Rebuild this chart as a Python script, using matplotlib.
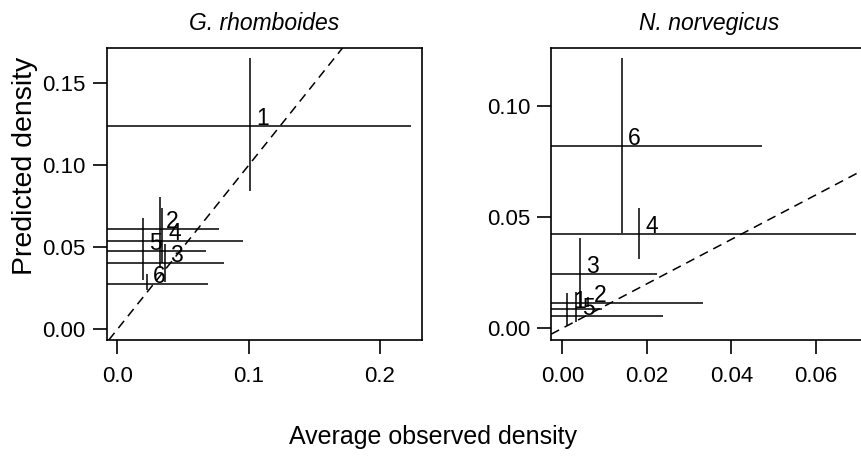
import matplotlib
matplotlib.use("Agg")
import matplotlib.pyplot as plt

plt.rcParams['font.family'] = ['Liberation Sans', 'DejaVu Sans']

# ---------------- data ----------------
labels = ["1", "2", "3", "4", "5", "6"]

# G. rhomboides
g_obs = [0.1013, 0.0325, 0.0361, 0.0343, 0.0198, 0.0228]
g_obs_lo = [-0.0211, -0.0125, -0.0088, -0.0269, -0.0280, -0.0232]
g_obs_hi = [0.2237, 0.0775, 0.0810, 0.0955, 0.0676, 0.0688]
g_pred = [0.1241, 0.0610, 0.0406, 0.0540, 0.0476, 0.0278]
g_pred_lo = [0.0843, 0.0373, 0.0290, 0.0404, 0.0301, 0.0240]
g_pred_hi = [0.1656, 0.0809, 0.0520, 0.0738, 0.0677, 0.0335]

# N. norvegicus
n_obs = [0.0012, 0.0061, 0.0042, 0.0182, 0.0032, 0.0141]
n_obs_lo = [-0.0060, -0.0212, -0.0141, -0.0330, -0.0175, -0.0190]
n_obs_hi = [0.0093, 0.0334, 0.0225, 0.0694, 0.0239, 0.0472]
n_pred = [0.0088, 0.0115, 0.0244, 0.0424, 0.0057, 0.0820]
n_pred_lo = [0.0010, 0.0095, 0.0097, 0.0313, 0.0030, 0.0427]
n_pred_hi = [0.0157, 0.0140, 0.0405, 0.0540, 0.0165, 0.1217]

g_xticks = [0.0, 0.1, 0.2]
g_xticklabels = ["0.0", "0.1", "0.2"]
g_yticks = [0.00, 0.05, 0.10, 0.15]
g_yticklabels = ["0.00", "0.05", "0.10", "0.15"]
n_xticks = [0.00, 0.02, 0.04, 0.06]
n_xticklabels = ["0.00", "0.02", "0.04", "0.06"]
n_yticks = [0.00, 0.05, 0.10]
n_yticklabels = ["0.00", "0.05", "0.10"]

# ---------------- figure ----------------
W, H = 862, 457
fig = plt.figure(figsize=(W / 100, H / 100), dpi=100)


def px_axes(l, t, r, b):
    return fig.add_axes([l / W, 1 - b / H, (r - l) / W, (b - t) / H])


def panel(ax, title, obs, olo, ohi, pred, plo, phi, xlim, ylim,
          xt, xtl, yt, ytl):
    ax.hlines(pred, olo, ohi, colors="black", linewidth=1.1)
    ax.vlines(obs, plo, phi, colors="black", linewidth=1.1)
    for lab, x, y in zip(labels, obs, pred):
        ax.annotate(lab, (x, y), xytext=(4.2, 0.6), textcoords="offset points",
                    ha="left", va="baseline", fontsize=16.5)
    ax.axline((0, 0), (1, 1), color="black", linewidth=1.1,
              linestyle=(0, (6, 4)))
    ax.set_xlim(*xlim)
    ax.set_ylim(*ylim)
    ax.set_xticks(xt)
    ax.set_xticklabels(xtl)
    ax.set_yticks(yt)
    ax.set_yticklabels(ytl)
    for s in ax.spines.values():
        s.set_linewidth(1.2)
    ax.tick_params(direction="out", length=10, width=1.2, labelsize=16)
    ax.tick_params(axis="x", pad=9)
    ax.tick_params(axis="y", pad=5)
    ax.set_title(title, fontsize=16.5, style="italic", pad=13)


ax1 = px_axes(106.7, 48, 421.7, 340)
panel(ax1, "G. rhomboides", g_obs, g_obs_lo, g_obs_hi, g_pred, g_pred_lo,
      g_pred_hi, (-0.0081, 0.2318), (-0.0065, 0.1715),
      g_xticks, g_xticklabels, g_yticks, g_yticklabels)

ax2 = px_axes(551, 48, 867.4, 340)
panel(ax2, "N. norvegicus", n_obs, n_obs_lo, n_obs_hi, n_pred, n_pred_lo,
      n_pred_hi, (-0.00267, 0.0722), (-0.00526, 0.1261),
      n_xticks, n_xticklabels, n_yticks, n_yticklabels)

fig.text(433 / W, 1 - 437 / H, "Average observed density", ha="center",
         va="center", fontsize=18)
fig.text(25 / W, 1 - 166 / H, "Predicted density", ha="center",
         va="center", rotation=90, fontsize=20.5)

fig.savefig("out.png", dpi=100)
